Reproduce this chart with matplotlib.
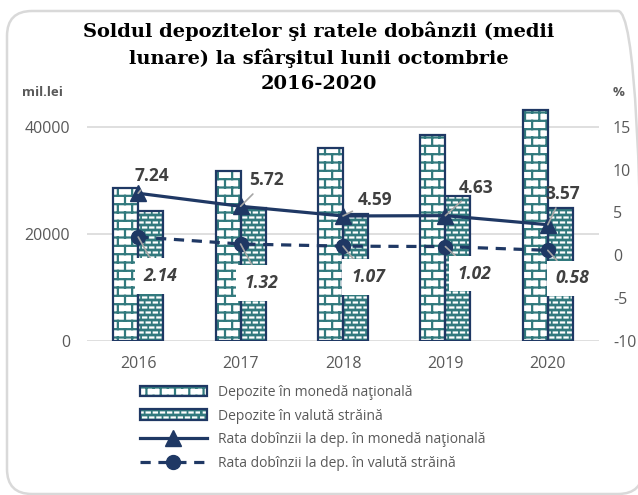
import numpy as np
import matplotlib
matplotlib.use('Agg')
import matplotlib.pyplot as plt
import matplotlib.hatch as mhatch
from matplotlib.path import Path
from matplotlib.patches import Patch, FancyBboxPatch
from matplotlib.lines import Line2D
from matplotlib.legend_handler import HandlerTuple

# data
years = ['2016', '2017', '2018', '2019', '2020']
dep_national = [28600, 31800, 36000, 38500, 43200]   # mil.lei
dep_foreign = [24200, 24900, 23700, 27000, 24800]    # mil.lei
rate_national = [7.24, 5.72, 4.59, 4.63, 3.57]       # %
rate_foreign = [2.14, 1.32, 1.07, 1.02, 0.58]        # %

label_national = 'Depozite în monedă naţională'
label_foreign = 'Depozite în valută străină'
label_rate_nat = 'Rata dobînzii la dep. în monedă naţională'
label_rate_for = 'Rata dobînzii la dep. în valută străină'

navy = '#1f3864'
teal = '#31797d'
grey_txt = '#595959'


# Excel-like fill patterns (brick wall and small dashes) as custom hatches.
# '*' -> bricks, 'O' -> dashes (replacing the stars / big circles patterns)
class BrickHatch(mhatch.HatchPatternBase):
    def __init__(self, hatch, density):
        self.rows = hatch.count('*') * 12
        self.cols = hatch.count('*') * 7
        self.num_vertices = 2 * self.rows + 2 * (self.rows + 1) * self.cols

    def set_vertices_and_codes(self, vertices, codes):
        segs = []
        for i in range(self.rows):
            y = (i + 0.5) / self.rows
            segs.append([(0, y), (1, y)])
        for i in range(-1, self.rows):
            y0 = (i + 0.5) / self.rows
            y1 = (i + 1.5) / self.rows
            for k in range(self.cols):
                x = (k + 0.5 * (i % 2) + 0.25) / self.cols
                segs.append([(x, y0), (x, y1)])
        vertices[:] = np.array(segs).reshape(-1, 2)
        codes[0::2] = Path.MOVETO
        codes[1::2] = Path.LINETO


class DashHatch(mhatch.HatchPatternBase):
    def __init__(self, hatch, density):
        self.rows = hatch.count('O') * 20
        self.cols = 14
        self.num_vertices = 2 * self.rows * self.cols

    def set_vertices_and_codes(self, vertices, codes):
        segs = []
        for i in range(self.rows):
            y = (i + 0.5) / self.rows
            for k in range(self.cols):
                x = (k + 0.5 * (i % 2) + 0.25) / self.cols
                segs.append([(x - 0.22 / self.cols, y), (x + 0.22 / self.cols, y)])
        vertices[:] = np.array(segs).reshape(-1, 2)
        codes[0::2] = Path.MOVETO
        codes[1::2] = Path.LINETO


mhatch._hatch_types = [h for h in mhatch._hatch_types
                       if h not in (mhatch.Stars, mhatch.LargeCircles)] + [BrickHatch, DashHatch]
plt.rcParams['hatch.linewidth'] = 1.6
plt.rcParams['axes.unicode_minus'] = False
plt.rcParams['font.family'] = ['Open Sans', 'DejaVu Sans']

fig = plt.figure(figsize=(6.38, 4.95), dpi=100)
ax = fig.add_axes([87 / 638, 1 - 341 / 495, 512 / 638, 241 / 495])
ax2 = ax.twinx()

x = np.arange(len(years))
w = 0.245

# bars: hatched fill first, then the navy outline on top
ax.bar(x - w / 2, dep_national, w, color='white', edgecolor=teal, hatch='*', linewidth=0, zorder=2)
ax.bar(x - w / 2, dep_national, w, fill=False, edgecolor=navy, linewidth=1.6, zorder=3)
ax.bar(x + w / 2, dep_foreign, w, color=teal, edgecolor='white', hatch='O', linewidth=0, zorder=2)
ax.bar(x + w / 2, dep_foreign, w, fill=False, edgecolor=navy, linewidth=1.6, zorder=3)

ax.set_xlim(-0.5, len(years) - 0.5)
ax.set_ylim(0, 45000)
ax.set_yticks([0, 20000, 40000])
ax.set_xticks(x, years)
ax.grid(axis='y', color='#d9d9d9', linewidth=1.2, zorder=0)
ax.set_axisbelow(True)
for s in ax.spines.values():
    s.set_visible(False)
for s in ax2.spines.values():
    s.set_visible(False)
ax.tick_params(axis='both', length=0, labelsize=11.5, labelcolor=grey_txt)
ax.tick_params(axis='y', pad=12)
ax.tick_params(axis='x', pad=11)

# rate lines on the secondary axis
ax2.plot(x, rate_national, color=navy, linewidth=2.3, marker='^', markersize=11, zorder=5)
ax2.plot(x, rate_foreign, color=navy, linewidth=2.3, linestyle=(0, (3.2, 2.4)),
         marker='o', markersize=10, zorder=5)
ax2.set_ylim(-10, 18.125)
ax2.set_yticks(np.arange(-10, 16, 5))
ax2.tick_params(axis='y', length=0, labelsize=11.5, labelcolor=grey_txt, pad=10)

# data labels (offsets in pixels from the point)
off_nat = [(14, 17), (26, 26), (32, 16), (31, 28), (15, 31)]
off_for = [(22, -39), (21, -39), (25, -31), (29, -27), (25, -28)]
for i in range(len(years)):
    ax2.annotate(f'{rate_national[i]:.2f}', (x[i], rate_national[i]),
                 xytext=off_nat[i], textcoords='offset pixels', ha='center', va='center',
                 fontsize=12.5, fontweight='bold', color='#404040', zorder=6,
                 arrowprops=dict(arrowstyle='-', color='#a6a6a6', lw=1.2, shrinkA=2, shrinkB=0))
    ax2.annotate(f'{rate_foreign[i]:.2f}', (x[i], rate_foreign[i]),
                 xytext=off_for[i], textcoords='offset pixels', ha='center', va='center',
                 fontsize=12.5, fontweight='bold', fontstyle='italic', color='#404040', zorder=6,
                 bbox=dict(boxstyle='square,pad=0.5', fc='white', ec='none'),
                 arrowprops=dict(arrowstyle='-', color='#a6a6a6', lw=1.2, shrinkA=0, shrinkB=0))

# title and axis units
fig.text(0.5, 1 - 57 / 495, 'Soldul depozitelor şi ratele dobânzii (medii\nlunare) la sfârşitul lunii octombrie\n2016-2020',
         ha='center', va='center', fontsize=14, fontweight='bold', family='DejaVu Serif',
         linespacing=1.5, color='black')
fig.text(22 / 638, 1 - 93 / 495, 'mil.lei', ha='left', va='center', fontsize=9.5,
         fontweight='bold', color=grey_txt)
fig.text(619 / 638, 1 - 92 / 495, '%', ha='center', va='center', fontsize=9.5,
         fontweight='bold', color=grey_txt)

# legend
h1 = (Patch(facecolor='white', edgecolor=teal, hatch='*', linewidth=0),
      Patch(fill=False, edgecolor=navy, linewidth=1.6))
h2 = (Patch(facecolor=teal, edgecolor='white', hatch='O', linewidth=0),
      Patch(fill=False, edgecolor=navy, linewidth=1.6))
h3 = Line2D([], [], color=navy, linewidth=2.3, marker='^', markersize=11)
h4 = Line2D([], [], color=navy, linewidth=2.3, linestyle=(0, (3.2, 2.4)), marker='o', markersize=10)
leg = fig.legend([h1, h2, h3, h4], [label_national, label_foreign, label_rate_nat, label_rate_for],
                 loc='upper left', bbox_to_anchor=(140 / 638, 1 - 385 / 495),
                 frameon=False, borderpad=0, borderaxespad=0, fontsize=10,
                 handlelength=4.8, handleheight=0.8, handletextpad=0.8, labelspacing=0.62,
                 handler_map={tuple: HandlerTuple(ndivide=1, pad=0)}, labelcolor=grey_txt)

# rounded chart border (runs off the right edge, as in the original)
fig.patches.append(FancyBboxPatch((7 / 638, 1 / 495), 636 / 638, 483 / 495,
                                  boxstyle='round,pad=0,rounding_size=%f' % (25 / 638),
                                  mutation_aspect=638 / 495,
                                  transform=fig.transFigure, fc='none', ec='#d9d9d9', lw=1.8))

fig.savefig('out.png', dpi=100)
